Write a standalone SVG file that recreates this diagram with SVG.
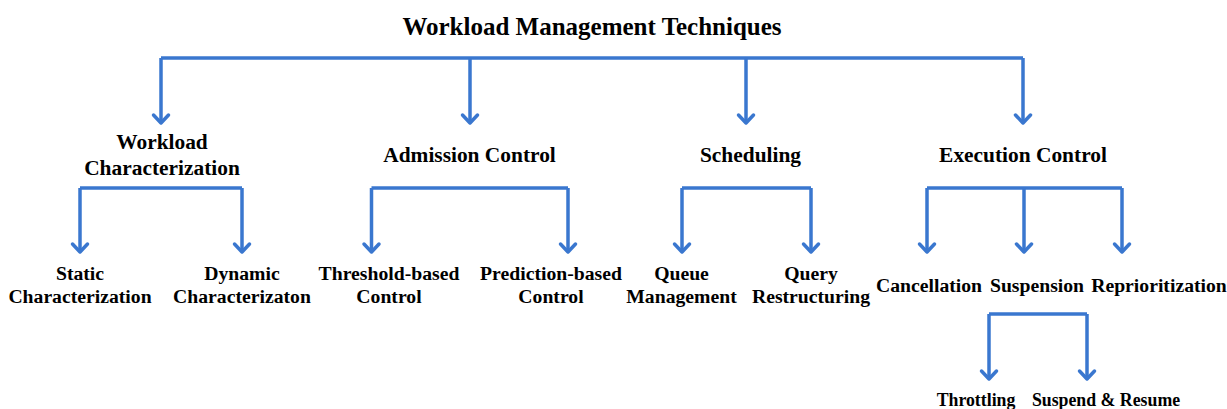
<svg xmlns="http://www.w3.org/2000/svg" width="1227" height="409" viewBox="0 0 1227 409">
  <defs>
    <style>
      text { font-family: "Liberation Serif", "DejaVu Serif", serif; font-weight: bold; fill: #000; text-anchor: middle; }
      .title { font-size: 25px; }
      .l2 { font-size: 21.4px; }
      .l3 { font-size: 19.7px; }
      .l4 { font-size: 17.8px; }
      .conn { fill: none; stroke: #3a77cf; stroke-width: 3.5; stroke-linejoin: round; stroke-linecap: butt; }
    </style>
    <marker id="chev" viewBox="-12 -10 14 20" markerWidth="14" markerHeight="20" refX="0" refY="0" orient="auto" markerUnits="userSpaceOnUse" overflow="visible">
      <path d="M-8,-7.5 L0,0 L-8,7.5" fill="none" stroke="#3a77cf" stroke-width="3.5" stroke-linejoin="round" stroke-linecap="round"/>
    </marker>
  </defs>

  <!-- connectors -->
  <g id="connectors" class="conn">
    <!-- root to first level -->
    <path d="M161,58 H1023"/>
    <path d="M161,58 V123" marker-end="url(#chev)"/>
    <path d="M470,58 V123" marker-end="url(#chev)"/>
    <path d="M746,58 V123" marker-end="url(#chev)"/>
    <path d="M1023,58 V123" marker-end="url(#chev)"/>
    <!-- workload characterization -->
    <path d="M80,188 H242"/>
    <path d="M80,188 V252" marker-end="url(#chev)"/>
    <path d="M242,188 V252" marker-end="url(#chev)"/>
    <!-- admission control -->
    <path d="M371.5,188 H568"/>
    <path d="M371.5,188 V252" marker-end="url(#chev)"/>
    <path d="M568,188 V252" marker-end="url(#chev)"/>
    <!-- scheduling -->
    <path d="M682,188 H811"/>
    <path d="M682,188 V252" marker-end="url(#chev)"/>
    <path d="M811,188 V252" marker-end="url(#chev)"/>
    <!-- execution control -->
    <path d="M927,188 H1122"/>
    <path d="M927,188 V252" marker-end="url(#chev)"/>
    <path d="M1024,188 V252" marker-end="url(#chev)"/>
    <path d="M1122,188 V252" marker-end="url(#chev)"/>
    <!-- suspension -->
    <path d="M989,314 H1087"/>
    <path d="M989,314 V379" marker-end="url(#chev)"/>
    <path d="M1087,314 V379" marker-end="url(#chev)"/>
  </g>

  <g id="root"><text class="title" x="592" y="35">Workload Management Techniques</text></g>

  <g id="workload-characterization">
    <text class="l2" x="162" y="149">Workload</text>
    <text class="l2" x="162" y="175">Characterization</text>
  </g>
  <g id="admission-control"><text class="l2" x="469.5" y="162">Admission Control</text></g>
  <g id="scheduling"><text class="l2" x="750.5" y="162">Scheduling</text></g>
  <g id="execution-control"><text class="l2" x="1023" y="162">Execution Control</text></g>

  <g id="static-characterization">
    <text class="l3" x="80" y="280">Static</text>
    <text class="l3" x="80" y="303">Characterization</text>
  </g>
  <g id="dynamic-characterization">
    <text class="l3" x="242" y="280">Dynamic</text>
    <text class="l3" x="242" y="303">Characterizaton</text>
  </g>
  <g id="threshold-based-control">
    <text class="l3" x="389" y="280">Threshold-based</text>
    <text class="l3" x="389" y="303">Control</text>
  </g>
  <g id="prediction-based-control">
    <text class="l3" x="551" y="280">Prediction-based</text>
    <text class="l3" x="551" y="303">Control</text>
  </g>
  <g id="queue-management">
    <text class="l3" x="681.5" y="280">Queue</text>
    <text class="l3" x="681.5" y="303">Management</text>
  </g>
  <g id="query-restructuring">
    <text class="l3" x="811" y="280">Query</text>
    <text class="l3" x="811" y="303">Restructuring</text>
  </g>
  <g id="cancellation"><text class="l3" x="929" y="292">Cancellation</text></g>
  <g id="suspension"><text class="l3" x="1037" y="292">Suspension</text></g>
  <g id="reprioritization"><text class="l3" x="1159" y="292">Reprioritization</text></g>
  <g id="throttling"><text class="l4" x="976" y="406">Throttling</text></g>
  <g id="suspend-resume"><text class="l4" x="1106" y="406">Suspend &amp; Resume</text></g>
</svg>
